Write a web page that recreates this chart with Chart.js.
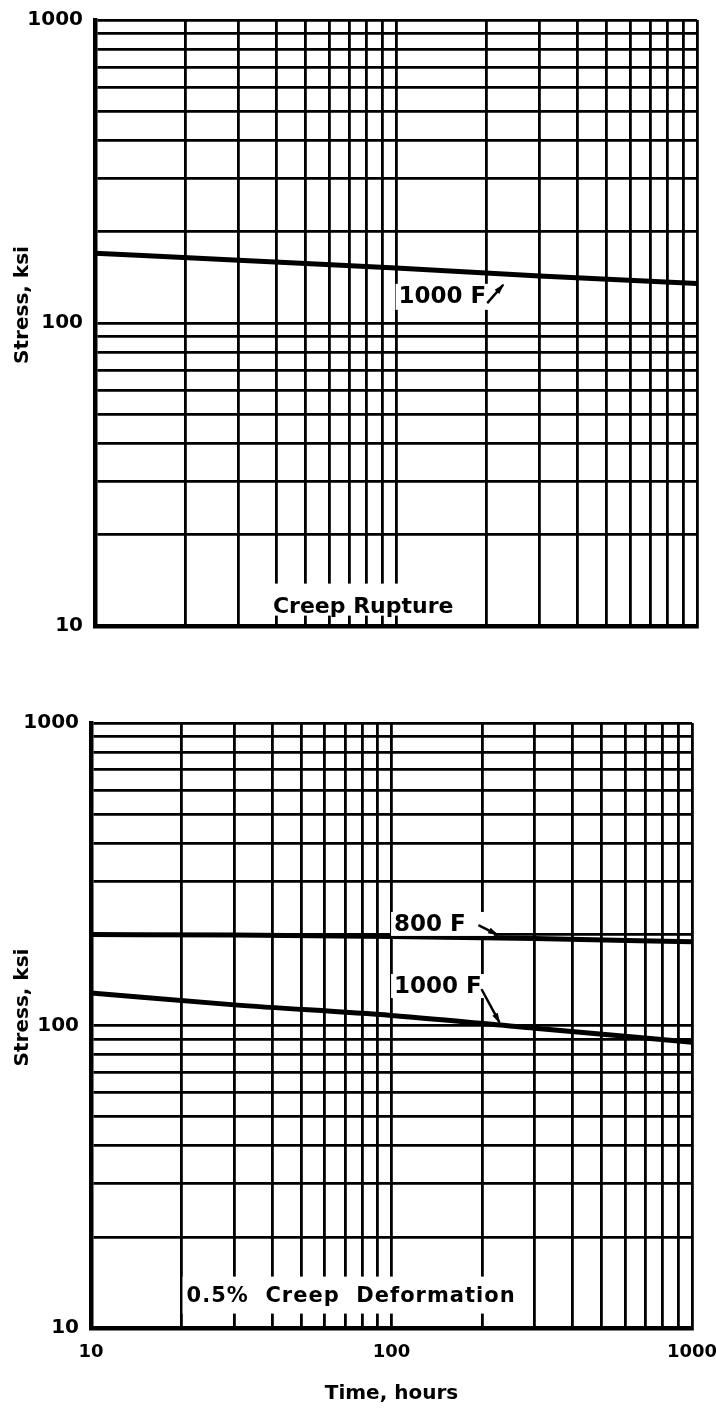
<!DOCTYPE html>
<html><head><meta charset="utf-8">
<script src="https://cdn.jsdelivr.net/npm/chart.js@4"></script>
<style>
html,body{margin:0;padding:0;background:#fff;}
#wrap{position:relative;width:716px;height:1410px;overflow:hidden;}
.c{position:absolute;left:0;width:716px;}
</style></head><body>
<div id="wrap">
<div class="c" style="top:0;height:660px"><canvas id="c1"></canvas></div>
<div class="c" style="top:660px;height:750px"><canvas id="c2"></canvas></div>
</div>
<script>
// ---- data ----
const gridTicks = [10,20,30,40,50,60,70,80,90,100,200,300,400,500,600,700,800,900,1000];
const labeledTicks = [10,100,1000];
const hours = [10, 30, 100, 300, 1000];
const rupture1000F = [170, 161, 152, 143, 135];
const deform800F = [200, 199, 197, 194, 189];
const deform1000F = [128, 117, 108, 98, 88];
const yTitleText = 'Stress, ksi';
const xTitleText = 'Time, hours';
const topCaption = 'Creep Rupture';
const bottomCaption = '0.5%  Creep  Deformation';

const FONT = '"DejaVu Sans", sans-serif';

function pts(xs, ys){ return xs.map((v,i)=>({x:v, y:ys[i]})); }

const notesPlugin = {
  id: 'notes',
  afterDraw(chart, args, opts){
    const {ctx, chartArea} = chart;
    const sx = chart.scales.x, sy = chart.scales.y;
    // y title
    ctx.save();
    ctx.translate(opts.yTitleX, (chartArea.top+chartArea.bottom)/2 + opts.yTitleDy);
    ctx.rotate(-Math.PI/2);
    ctx.font = 'bold 20px ' + FONT;
    ctx.textAlign = 'center'; ctx.textBaseline = 'middle'; ctx.fillStyle = '#000';
    ctx.fillText(yTitleText, 0, 0);
    ctx.restore();
    // notes
    for (const n of opts.notes){
      ctx.save();
      ctx.font = n.font;
      if (n.spacing) ctx.letterSpacing = n.spacing;
      ctx.textAlign = 'left'; ctx.textBaseline = 'middle';
      const px = sx.getPixelForValue(n.x), py = sy.getPixelForValue(n.y);
      const w = ctx.measureText(n.text).width;
      if (n.box){
        ctx.fillStyle = '#fff';
        ctx.fillRect(px - n.box[0], py - n.box[1], w + n.box[0] + n.box[2], n.box[1] + n.box[3]);
      }
      ctx.fillStyle = '#000';
      ctx.fillText(n.text, px, py);
      ctx.restore();
    }
    // arrows
    for (const a of opts.arrows){
      const x0 = sx.getPixelForValue(a.from[0]), y0 = sy.getPixelForValue(a.from[1]);
      const x1 = sx.getPixelForValue(a.to[0]), y1 = sy.getPixelForValue(a.to[1]);
      ctx.save();
      ctx.strokeStyle = '#000'; ctx.fillStyle = '#000'; ctx.lineWidth = 2.5; ctx.lineCap = 'round';
      ctx.beginPath(); ctx.moveTo(x0, y0); ctx.lineTo(x1, y1); ctx.stroke();
      const ang = Math.atan2(y1-y0, x1-x0), L = 9, W = 0.35;
      ctx.beginPath();
      ctx.moveTo(x1 + 2*Math.cos(ang), y1 + 2*Math.sin(ang));
      ctx.lineTo(x1 - L*Math.cos(ang-W), y1 - L*Math.sin(ang-W));
      ctx.lineTo(x1 - L*Math.cos(ang+W), y1 - L*Math.sin(ang+W));
      ctx.closePath(); ctx.fill();
      ctx.restore();
    }
  }
};

function makeChart(id, cfg){
  const datasets = cfg.series.map(s => ({
    data: pts(hours, s), borderColor: '#000', borderWidth: 5, pointRadius: 0,
    tension: 0.3, cubicInterpolationMode: 'monotone', fill: false
  }));
  return new Chart(document.getElementById(id), {
    type: 'line',
    data: { datasets },
    plugins: [notesPlugin],
    options: {
      responsive: true, maintainAspectRatio: false, animation: false,
      devicePixelRatio: 1,
      layout: { padding: cfg.padding },
      plugins: { legend: {display:false}, tooltip: {enabled:false},
        notes: { notes: cfg.notes, arrows: cfg.arrows, yTitleX: 23, yTitleDy: -18 } },
      scales: {
        x: {
          type: 'logarithmic', min: 10, max: 1000, position: 'bottom',
          afterBuildTicks: s => { s.ticks = gridTicks.map(v => ({value: v})); },
          afterFit: s => { s.height = cfg.xAxisH; s.paddingLeft = 0; s.paddingRight = 0; },
          ticks: { display: cfg.showX, autoSkip: false, maxRotation: 0, minRotation: 0, padding: 14,
            color: '#000', font: {family: FONT, size: 18, weight: 'bold'},
            callback: v => labeledTicks.includes(v) ? String(v) : '' },
          grid: { color: '#000', lineWidth: 2.8, drawTicks: false },
          border: { color: '#000', width: 4.5 },
          title: { display: cfg.showX, text: xTitleText, color: '#000',
            font: {family: FONT, size: 20, weight: 'bold'}, padding: {top: 0, bottom: 4} }
        },
        y: {
          type: 'logarithmic', min: 10, max: 1000, position: 'left',
          afterBuildTicks: s => { s.ticks = gridTicks.map(v => ({value: v})); },
          afterFit: s => { s.width = cfg.yAxisW; s.paddingTop = 0; s.paddingBottom = 0; },
          ticks: { autoSkip: false, padding: 12, color: '#000',
            font: {family: FONT, size: 20, weight: 'bold'},
            callback: v => labeledTicks.includes(v) ? String(v) : '' },
          grid: { color: '#000', lineWidth: 2.8, drawTicks: false },
          border: { color: '#000', width: 4.5 }
        }
      }
    }
  });
}

makeChart('c1', {
  series: [rupture1000F],
  padding: {top: 20, right: 19, bottom: 0, left: 0},
  xAxisH: 34, yAxisW: 95, showX: false,
  notes: [
    {text: '1000 F', x: 102, y: 122, font: 'bold 23px ' + FONT, box: [3, 13, 30, 13]},
    {text: topCaption, x: 39, y: 11.5, font: 'bold 22px ' + FONT, box: [6, 24, 8, 8]}
  ],
  arrows: [ {from: [202, 117], to: [226, 133]} ]
});

makeChart('c2', {
  series: [deform800F, deform1000F],
  padding: {top: 63, right: 24, bottom: 0, left: 0},
  xAxisH: 82, yAxisW: 91, showX: true,
  notes: [
    {text: '800 F', x: 102, y: 215, font: 'bold 23px ' + FONT, box: [3, 13, 28, 11]},
    {text: '1000 F', x: 102, y: 134, font: 'bold 23px ' + FONT, box: [3, 13, 28, 11]},
    {text: bottomCaption, x: 20.8, y: 12.7, font: 'bold 21px ' + FONT, spacing: '1px', box: [4, 20, 6, 17]}
  ],
  arrows: [ {from: [196, 214], to: [224, 200]}, {from: [200, 131], to: [228, 103]} ]
});
</script>
</body></html>
